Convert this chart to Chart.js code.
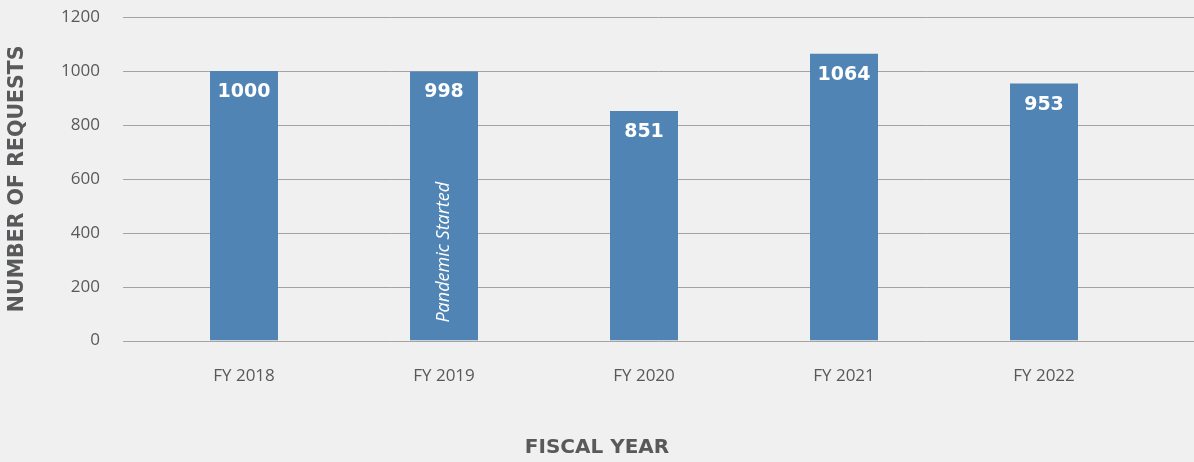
<!DOCTYPE html>
<html>
<head>
<meta charset="utf-8">
<script src="https://cdn.jsdelivr.net/npm/chart.js@4"></script>
<style>
  html, body { margin: 0; padding: 0; background: #eff0ef; }
  #wrap { width: 1194px; height: 462px; }
</style>
</head>
<body>
<div id="wrap"><canvas id="requestsChart"></canvas></div>
<script>
const years = ['FY 2018', 'FY 2019', 'FY 2020', 'FY 2021', 'FY 2022'];
const requests = [1000, 998, 851, 1064, 953];
const yTicks = [0, 200, 400, 600, 800, 1000, 1200];
const noteYear = 'FY 2019';
const noteText = 'Pandemic Started';

const textGray = '#58595b';

// grid lines run past the bars on both sides, so draw them ourselves
const gridLines = {
  id: 'gridLines',
  beforeDatasetsDraw(chart) {
    const ctx = chart.ctx;
    const y = chart.scales.y;
    ctx.save();
    ctx.strokeStyle = '#a3a3a3';
    ctx.lineWidth = 1;
    y.ticks.forEach((t, i) => {
      const py = Math.round(y.getPixelForTick(i)) + 0.5;
      ctx.beginPath();
      ctx.moveTo(123, py);
      ctx.lineTo(chart.width, py);
      ctx.stroke();
    });
    ctx.restore();
  }
};

// value labels inside the bars + the rotated note
const barLabels = {
  id: 'barLabels',
  afterDatasetsDraw(chart) {
    const ctx = chart.ctx;
    const meta = chart.getDatasetMeta(0);
    ctx.save();
    ctx.fillStyle = '#ffffff';
    ctx.textAlign = 'center';
    ctx.textBaseline = 'middle';
    ctx.font = 'bold 19px "DejaVu Sans"';
    meta.data.forEach((bar, i) => {
      ctx.fillText(String(requests[i]), bar.x, bar.y + 21);
    });
    const noteBar = meta.data[years.indexOf(noteYear)];
    ctx.translate(noteBar.x, noteBar.base - 18);
    ctx.rotate(-Math.PI / 2);
    ctx.textAlign = 'left';
    ctx.font = 'italic 18px "Open Sans"';
    ctx.fillText(noteText, 0, 0);
    ctx.restore();
  }
};

new Chart(document.getElementById('requestsChart'), {
  type: 'bar',
  data: {
    labels: years,
    datasets: [{
      data: requests,
      backgroundColor: '#4f84b4',
      borderWidth: 0,
      categoryPercentage: 1,
      barPercentage: 0.34
    }]
  },
  options: {
    responsive: true,
    maintainAspectRatio: false,
    animation: false,
    layout: { padding: { top: 17, left: 0, right: 0, bottom: 0 } },
    plugins: {
      legend: { display: false },
      tooltip: { enabled: false },
      title: {
        display: true,
        position: 'bottom',
        text: 'FISCAL YEAR',
        color: textGray,
        font: { family: '"DejaVu Sans"', size: 20, weight: 'bold' },
        padding: { top: 25, bottom: 2 }
      }
    },
    scales: {
      x: {
        grid: { display: false, drawTicks: false },
        border: { display: false },
        ticks: {
          color: textGray,
          font: { family: '"Open Sans"', size: 17 },
          padding: 25
        }
      },
      y: {
        min: 0,
        max: 1200,
        afterFit: s => {
          s.width = 144;
          s.paddingTop = 0;
          s.paddingBottom = 0;
        },
        afterBuildTicks: s => { s.ticks = yTicks.map(v => ({ value: v })); },
        grid: { display: false, drawTicks: false },
        border: { display: false },
        ticks: {
          color: textGray,
          font: { family: '"Open Sans"', size: 17 },
          padding: 44,
          callback: v => String(v)
        },
        title: {
          display: true,
          text: 'NUMBER OF REQUESTS',
          color: textGray,
          font: { family: '"DejaVu Sans"', size: 20.5, weight: 'bold' },
          padding: { top: 5, bottom: 0 }
        }
      },
      yr: {
        position: 'right',
        afterFit: s => { s.width = 50; },
        grid: { display: false, drawTicks: false },
        border: { display: false },
        ticks: { display: false }
      }
    }
  },
  plugins: [gridLines, barLabels]
});
</script>
</body>
</html>
